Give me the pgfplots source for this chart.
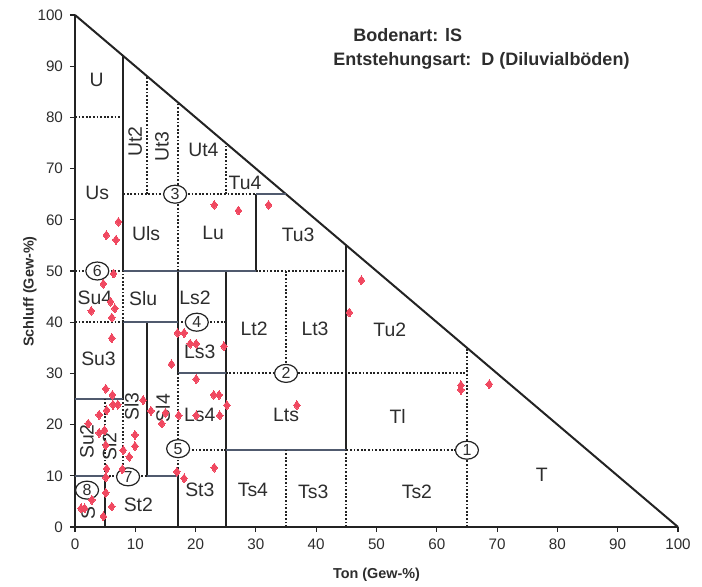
\documentclass[border=0pt]{standalone}
\usepackage{fontspec}
\setmainfont{Liberation Sans}
\usepackage{pgfplots}
\pgfplotsset{compat=1.18}
\usetikzlibrary{calc,shapes.geometric}
\definecolor{txt}{RGB}{45,45,45}
\definecolor{ln}{RGB}{35,35,35}
\definecolor{hl}{RGB}{80,90,110}
\definecolor{pt}{RGB}{240,72,96}
\tikzset{
  lab/.style={font=\fontsize{9.7}{11}\selectfont, text=txt, inner sep=0pt},
  circ/.style={ellipse, draw=ln, fill=white, line width=0.6pt, inner sep=0pt, minimum width=11.5pt, minimum height=9pt, font=\fontsize{8}{8}\selectfont, text=txt},
}
\pgfplotsset{
  sol/.style={ln, line width=1pt, no markers, forget plot},
  hsol/.style={hl, line width=1pt, no markers, forget plot},
  dot/.style={ln, line width=1pt, dash pattern=on 0.9pt off 0.9pt, no markers, forget plot},
}
\begin{document}
\begin{tikzpicture}
\begin{axis}[name=ax, scale only axis, width=301.5pt, height=256pt,
  xmin=0,xmax=100,ymin=0,ymax=100,
  axis x line=bottom, axis y line=left,
  axis line style={-, ln, line width=0.8pt},
  xtick={0,10,...,100}, ytick={0,10,...,100},
  tick align=outside, major tick length=2.5pt, tick style={ln, line width=0.6pt},
  ticklabel style={font=\fontsize{7.6}{9}\selectfont, text=txt},
  /pgf/number format/assume math mode=true,
  clip=false,
]
% hypotenuse
\addplot[sol] coordinates {(0,100)(100,0)};
% solid vertical
\addplot[sol] coordinates {(8,50)(8,92)};
\addplot[sol] coordinates {(8,25)(8,40)};
\addplot[sol] coordinates {(12,10)(12,40)};
\addplot[sol] coordinates {(17,0)(17,10)};
\addplot[sol] coordinates {(17,30)(17,50)};
\addplot[sol] coordinates {(25,0)(25,50)};
\addplot[sol] coordinates {(30,50)(30,65)};
\addplot[sol] coordinates {(45,15)(45,55)};
\addplot[sol] coordinates {(5,0)(5,10)};
% solid horizontal
\addplot[hsol] coordinates {(0,10)(5,10)};
\addplot[hsol] coordinates {(0,25)(8,25)};
\addplot[hsol] coordinates {(8,40)(17,40)};
\addplot[hsol] coordinates {(8,50)(30,50)};
\addplot[hsol] coordinates {(17,30)(25,30)};
\addplot[hsol] coordinates {(25,15)(45,15)};
\addplot[hsol] coordinates {(12,10)(17,10)};
\addplot[hsol] coordinates {(30,65)(35,65)};
% dotted
\addplot[dot] coordinates {(0,80)(8,80)};
\addplot[dot] coordinates {(12,65)(12,88)};
\addplot[dot] coordinates {(17,50)(17,83)};
\addplot[dot] coordinates {(25,65)(25,75)};
\addplot[dot] coordinates {(8,65)(30,65)};
\addplot[dot] coordinates {(8,40)(8,50)};
\addplot[dot] coordinates {(8,10)(8,25)};
\addplot[dot] coordinates {(5,10)(5,25)};
\addplot[dot] coordinates {(0,50)(8,50)};
\addplot[dot] coordinates {(30,50)(45,50)};
\addplot[dot] coordinates {(0,40)(8,40)};
\addplot[dot] coordinates {(17,40)(25,40)};
\addplot[dot] coordinates {(17,10)(17,30)};
\addplot[dot] coordinates {(17,15)(25,15)};
\addplot[dot] coordinates {(45,15)(65,15)};
\addplot[dot] coordinates {(5,10)(12,10)};
\addplot[dot] coordinates {(25,30)(65,30)};
\addplot[dot] coordinates {(35,30)(35,50)};
\addplot[dot] coordinates {(35,0)(35,15)};
\addplot[dot] coordinates {(45,0)(45,15)};
\addplot[dot] coordinates {(65,0)(65,35)};
% data points
\addplot[only marks, mark=diamond*, mark size=2.2pt, mark options={fill=pt, draw=pt, line width=0pt}] coordinates {
(7.2,59.6)(5.2,57.0)(6.8,56.1)
(23.1,62.9)(27.1,61.8)(32.1,62.9)
(6.4,49.5)(4.7,47.5)(5.9,44.0)(6.6,42.7)(2.7,42.2)(6.1,40.9)
(6.1,36.9)
(17.0,37.9)(18.1,37.9)(19.1,35.8)(20.1,35.8)(24.7,35.3)(16.0,31.8)
(20.1,28.9)(23.0,25.8)(23.9,25.8)(25.2,23.8)(17.2,21.8)(20.1,21.8)(24.0,21.8)
(36.8,23.8)
(11.3,24.8)(12.6,22.7)(15.0,22.3)(14.4,20.2)
(5.1,27.0)(6.2,25.8)(6.3,23.9)(7.1,23.9)(5.25,22.8)(4.0,21.9)(2.2,20.2)
(4.0,18.4)(4.9,18.9)(9.95,18.0)(5.1,16.0)(9.95,15.8)(8.0,15.0)(9.0,13.7)
(5.25,11.4)(7.85,11.3)(5.1,9.7)(5.1,6.7)(2.8,5.3)(6.1,4.0)(1.0,3.65)(1.6,3.65)(4.7,2.1)
(16.9,10.8)(18.1,9.5)(23.1,11.6)
(47.5,48.2)(45.5,41.9)
(64.0,27.7)(64.0,26.8)(68.7,27.9)
};
% region labels
\node[lab] at (axis cs:3.6,87.3) {U};
\node[lab] at (axis cs:3.7,65.3) {Us};
\node[lab, rotate=90] at (axis cs:10,75.3) {Ut2};
\node[lab, rotate=90] at (axis cs:14.4,74.3) {Ut3};
\node[lab] at (axis cs:21.3,73.6) {Ut4};
\node[lab] at (axis cs:28.2,67.2) {Tu4};
\node[lab] at (axis cs:11.8,57.4) {Uls};
\node[lab] at (axis cs:22.9,57.4) {Lu};
\node[lab] at (axis cs:37,57) {Tu3};
\node[lab] at (axis cs:3.3,44.7) {Su4};
\node[lab] at (axis cs:11.3,44.7) {Slu};
\node[lab] at (axis cs:19.9,44.7) {Ls2};
\node[lab] at (axis cs:29.7,38.8) {Lt2};
\node[lab] at (axis cs:39.8,38.8) {Lt3};
\node[lab] at (axis cs:52.2,38.5) {Tu2};
\node[lab] at (axis cs:3.9,32.8) {Su3};
\node[lab] at (axis cs:20.7,34.2) {Ls3};
\node[lab, rotate=90] at (axis cs:9.4,23.5) {Sl3};
\node[lab, rotate=90] at (axis cs:14.6,23.2) {Sl4};
\node[lab] at (axis cs:20.7,21.9) {Ls4};
\node[lab] at (axis cs:35,21.9) {Lts};
\node[lab] at (axis cs:53.5,21.5) {Tl};
\node[lab, rotate=90] at (axis cs:2.0,16.7) {Su2};
\node[lab, rotate=90] at (axis cs:5.7,15.7) {Sl2};
\node[lab, rotate=90] at (axis cs:2.2,2.7) {S};
\node[lab] at (axis cs:10.5,4.3) {St2};
\node[lab] at (axis cs:20.7,7.2) {St3};
\node[lab] at (axis cs:29.5,7.2) {Ts4};
\node[lab] at (axis cs:39.5,6.9) {Ts3};
\node[lab] at (axis cs:56.7,6.9) {Ts2};
\node[lab] at (axis cs:77.4,10.2) {T};
% circled numbers
\node[circ] at (axis cs:65,15) {1};
\node[circ] at (axis cs:35,30) {2};
\node[circ] at (axis cs:16.6,65) {3};
\node[circ] at (axis cs:20.2,40) {4};
\node[circ] at (axis cs:17.1,15.3) {5};
\node[circ] at (axis cs:3.7,50) {6};
\node[circ] at (axis cs:8.8,9.8) {7};
\node[circ] at (axis cs:2.0,7.2) {8};
% title
\node[anchor=west, inner sep=0pt, font=\bfseries\fontsize{9}{11}\selectfont, text=txt] at (axis cs:46.1,96.1) {Bodenart: lS};
\node[anchor=west, inner sep=0pt, font=\bfseries\fontsize{9}{11}\selectfont, text=txt] at (axis cs:42.8,91.0) {Entstehungsart:\ \ D (Diluvialböden)};
% axis labels
\node[font=\bfseries\fontsize{7.2}{9}\selectfont, text=txt, xshift=-22.5pt, rotate=90] at (rel axis cs:0,0.46) {Schluff (Gew-\%)};
\node[font=\bfseries\fontsize{7.2}{9}\selectfont, text=txt, yshift=-24pt] at (rel axis cs:0.5,0) {Ton (Gew-\%)};
\end{axis}
\pgfresetboundingbox
\path[use as bounding box] ($(ax.south west)+(-37.5pt,-29.5pt)$) rectangle ($(ax.north east)+(12pt,7.5pt)$);
\end{tikzpicture}
\end{document}
